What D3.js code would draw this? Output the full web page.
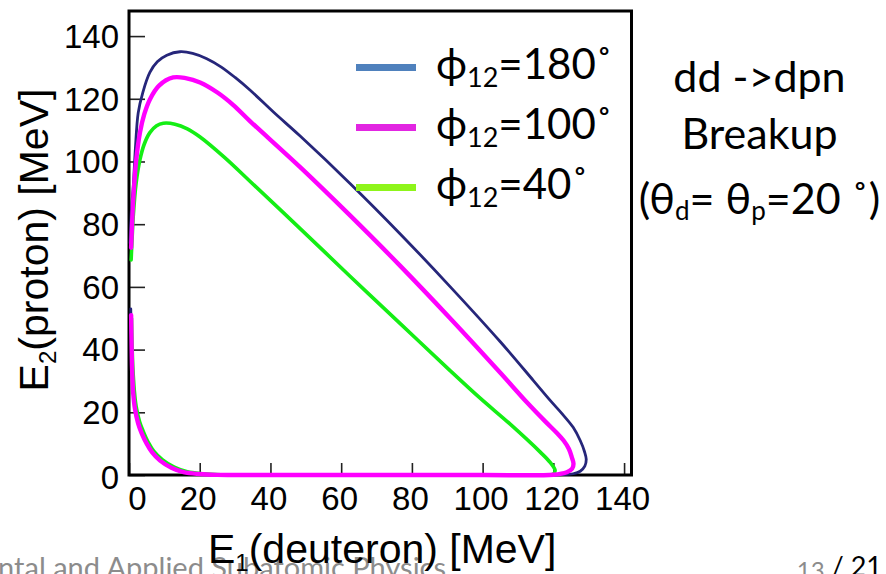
<!DOCTYPE html>
<html>
<head>
<meta charset="utf-8">
<script src="https://cdn.jsdelivr.net/npm/d3@7"></script>
<style>
  html, body { margin: 0; padding: 0; background: #ffffff; }
  svg { display: block; }
</style>
</head>
<body>
<svg id="chart" width="886" height="574"></svg>
<script>
// dd -> dpn breakup kinematic loci, E2 (proton) versus E1 (deuteron), in MeV

// phi12 = 180 deg
const phi180E1 = [0.3, 0.7, 1.2, 1.8, 2.6, 3.9, 5.9, 8.0, 10.7, 14.4, 18.0, 22.0, 26.0, 30.0, 34.2, 41.0, 48.4, 62.5, 76.7, 90.8, 105.0, 114.3, 119.1, 122.5, 125.6, 127.6, 128.8, 129.3, 128.9, 127.6, 125.6, 122.8, 115.0, 90.0, 60.0, 35.0, 25.0, 20.0, 15.4, 12.0, 8.8, 6.5, 5.0, 3.6, 2.6, 1.7, 1.2, 0.9, 0.75, 0.6, 0.5];
const phi180E2 = [74, 85, 92, 104, 115.5, 122, 128.4, 131.8, 133.9, 135.0, 134.5, 132.8, 130.2, 126.8, 122.8, 115.6, 108.1, 93.0, 76.9, 60.1, 42.5, 30.2, 23.8, 19.5, 15.2, 11.0, 7.5, 5.0, 2.8, 1.2, 0.4, 0.1, 0, 0, 0, 0, 0.05, 0.3, 0.9, 2.3, 4.6, 7.3, 10.0, 13.3, 16.4, 21.0, 26.0, 33.0, 40.0, 47.0, 53.0];

// phi12 = 100 deg
const phi100E1 = [0.6, 0.9, 1.2, 2.0, 3.1, 4.3, 5.9, 8.5, 12.5, 16.0, 20.1, 25.0, 29.5, 34.2, 48.4, 62.5, 76.7, 90.8, 105.0, 112.5, 117.7, 121.0, 122.9, 124.4, 125.2, 125.7, 125.3, 123.8, 120.0, 100.0, 70.0, 40.0, 25.0, 20.0, 15.4, 12.0, 8.8, 6.5, 5.0, 3.6, 2.6, 1.7, 1.2, 0.9, 0.75, 0.6];
const phi100E2 = [72.5, 81, 87.8, 100, 109.2, 115, 119.8, 124.2, 126.8, 126.6, 125.2, 122.0, 118.0, 112.9, 98.2, 82.8, 66.7, 50.0, 32.6, 23.2, 17.1, 13.4, 11.0, 8.3, 5.7, 3.6, 2.0, 0.9, 0.1, 0, 0, 0, 0.05, 0.3, 0.9, 2.3, 4.6, 7.3, 10.0, 13.3, 16.4, 21.0, 26.0, 33.0, 40.0, 51.0];

// phi12 = 40 deg
const phi40E1 = [0.6, 0.9, 1.2, 2.0, 3.1, 4.3, 5.9, 7.8, 9.7, 13.0, 16.5, 20.1, 27.0, 34.2, 48.4, 62.5, 76.7, 90.8, 99.3, 107.8, 116.3, 119.1, 120.5, 119.9, 117.7, 100.0, 70.0, 40.0, 26.0, 21.0, 16.5, 12.8, 9.5, 7.0, 5.5, 4.0, 3.0, 2.0, 1.5, 1.1, 0.9, 0.7];
const phi40E2 = [68.6, 76, 82.5, 93, 100.6, 105.5, 109.2, 111.4, 112.2, 111.9, 110.4, 107.8, 101.3, 93.7, 78.6, 63.4, 48.3, 33.3, 24.5, 16.2, 7.3, 4.0, 1.4, 0.2, 0, 0, 0, 0, 0.1, 0.4, 1.0, 2.5, 4.8, 7.6, 10.3, 14.0, 17.0, 22.0, 27.0, 34.0, 40.0, 50.0];

// axis ticks
const xMajorTicks = [0, 20, 40, 60, 80, 100, 120, 140];
const yMajorTicks = [0, 20, 40, 60, 80, 100, 120, 140];
const tickStep = 5;

// legend
const legendAngles = ["180", "100", "40"];
const legendColors = ["#4f81bd", "#e226e2", "#8ef51a"];

const svg = d3.select("#chart");
const W = 886, H = 574;
svg.append("rect").attr("width", W).attr("height", H).attr("fill", "#ffffff");

const frame = { left: 129, right: 631.5, top: 11, bottom: 475 };
const x = d3.scaleLinear().domain([0, 142.1]).range([frame.left, frame.right]);
const y = d3.scaleLinear().domain([0, 148]).range([frame.bottom, frame.top]);

const axisFont = "'Liberation Sans', Arial, Helvetica, sans-serif";
const slideFont = "Lato, 'Noto Sans', 'DejaVu Sans', sans-serif";

// slide footer (partly outside the visible area)
svg.append("text")
  .attr("x", 446).attr("y", 578)
  .attr("text-anchor", "end")
  .attr("font-family", slideFont).attr("font-size", 29)
  .attr("fill", "#8c8c8c")
  .text("Experimental and Applied Subatomic Physics");

const pageNo = svg.append("text")
  .attr("x", 882).attr("y", 576)
  .attr("text-anchor", "end")
  .attr("font-family", slideFont);
pageNo.append("tspan").attr("font-size", 24).attr("fill", "#8c8c8c").attr("dy", 3).text("13");
pageNo.append("tspan").attr("font-size", 27).attr("fill", "#000000").attr("dy", -3).text(" / 21");

// minor + major ticks
const xMinor = d3.range(0, 142.1, tickStep).filter(v => !xMajorTicks.includes(v));
const yMinor = d3.range(0, 148, tickStep).filter(v => !yMajorTicks.includes(v));

const gx = svg.append("g").attr("transform", `translate(0,${frame.bottom})`);
gx.call(d3.axisBottom(x).tickValues(xMinor).tickSize(-6).tickFormat(""));
gx.call(d3.axisBottom(x).tickValues(xMajorTicks).tickSize(-12).tickPadding(12).tickFormat(d3.format("d")));
gx.selectAll(".domain").remove();
gx.selectAll("line").attr("stroke", "#222").attr("stroke-width", 1.6);
gx.selectAll("text")
  .attr("font-family", axisFont).attr("font-size", 33).attr("fill", "#000")
  .attr("dx", d => d === 0 ? 8 : -2);

const gy = svg.append("g").attr("transform", `translate(${frame.left},0)`);
gy.call(d3.axisLeft(y).tickValues(yMinor).tickSize(-8).tickFormat(""));
gy.call(d3.axisLeft(y).tickValues(yMajorTicks).tickSize(-16).tickPadding(10).tickFormat(d3.format("d")));
gy.selectAll(".domain").remove();
gy.selectAll("line").attr("stroke", "#222").attr("stroke-width", 1.6);
gy.selectAll("text")
  .attr("font-family", axisFont).attr("font-size", 33).attr("fill", "#000")
  .attr("dy", d => d === 0 ? "0.42em" : "0.34em");

// plot frame
svg.append("rect")
  .attr("x", frame.left).attr("y", frame.top)
  .attr("width", frame.right - frame.left).attr("height", frame.bottom - frame.top)
  .attr("fill", "none").attr("stroke", "#000").attr("stroke-width", 3);

// kinematic curves
const line = d3.line()
  .x(d => x(d[0])).y(d => y(d[1]))
  .curve(d3.curveCatmullRom.alpha(0.5));

const curves = [
  { e1: phi180E1, e2: phi180E2, color: "#26267a", width: 2.8 },
  { e1: phi40E1,  e2: phi40E2,  color: "#14ee14", width: 3.6 },
  { e1: phi100E1, e2: phi100E2, color: "#ff00ff", width: 4.4 }
];
curves.forEach(c => {
  const pts = c.e1.map((v, i) => [v, c.e2[i]]);
  svg.append("path")
    .attr("d", line(pts))
    .attr("fill", "none")
    .attr("stroke", c.color)
    .attr("stroke-width", c.width)
    .attr("stroke-linejoin", "round")
    .attr("stroke-linecap", "round");
});

// axis titles
const xt = svg.append("text")
  .attr("x", 208).attr("y", 563)
  .attr("font-family", axisFont).attr("font-size", 41).attr("fill", "#000");
xt.append("tspan").text("E");
xt.append("tspan").attr("font-size", 24).attr("dy", 8).text("1");
xt.append("tspan").attr("dy", -8).text("(deuteron) [MeV]");

const yt = svg.append("text")
  .attr("transform", "translate(48,240) rotate(-90)")
  .attr("text-anchor", "middle")
  .attr("font-family", axisFont).attr("font-size", 41).attr("fill", "#000");
yt.append("tspan").text("E");
yt.append("tspan").attr("font-size", 24).attr("dy", 8).text("2");
yt.append("tspan").attr("dy", -8).text("(proton) [MeV]");

// legend
const legendRowY = [67.5, 127.5, 187.5];
legendAngles.forEach((a, i) => {
  const ly = legendRowY[i];
  svg.append("line")
    .attr("x1", 356).attr("x2", 416)
    .attr("y1", ly).attr("y2", ly)
    .attr("stroke", legendColors[i]).attr("stroke-width", 7);
  const t = svg.append("text")
    .attr("x", 436).attr("y", ly + 11)
    .attr("font-family", slideFont).attr("font-size", 42).attr("fill", "#000");
  t.append("tspan").text("ϕ");
  t.append("tspan").attr("font-size", 27).attr("dy", 8).text("12");
  t.append("tspan").attr("dy", -8).text("=" + a + "˚");
});

// reaction note
const noteX = 759.5;
const noteFont = 43;
svg.append("text")
  .attr("x", noteX).attr("y", 92).attr("text-anchor", "middle")
  .attr("font-family", slideFont).attr("font-size", noteFont).attr("fill", "#000")
  .text("dd ->dpn");
svg.append("text")
  .attr("x", noteX).attr("y", 148.5).attr("text-anchor", "middle")
  .attr("font-family", slideFont).attr("font-size", noteFont).attr("fill", "#000")
  .text("Breakup");
const n3 = svg.append("text")
  .attr("x", noteX).attr("y", 214).attr("text-anchor", "middle")
  .attr("font-family", slideFont).attr("font-size", noteFont).attr("fill", "#000");
n3.append("tspan").text("(θ");
n3.append("tspan").attr("font-size", 26).attr("dy", 6).text("d");
n3.append("tspan").attr("dy", -6).text("= θ");
n3.append("tspan").attr("font-size", 26).attr("dy", 6).text("p");
n3.append("tspan").attr("dy", -6).text("=20 ˚)");
</script>
</body>
</html>
